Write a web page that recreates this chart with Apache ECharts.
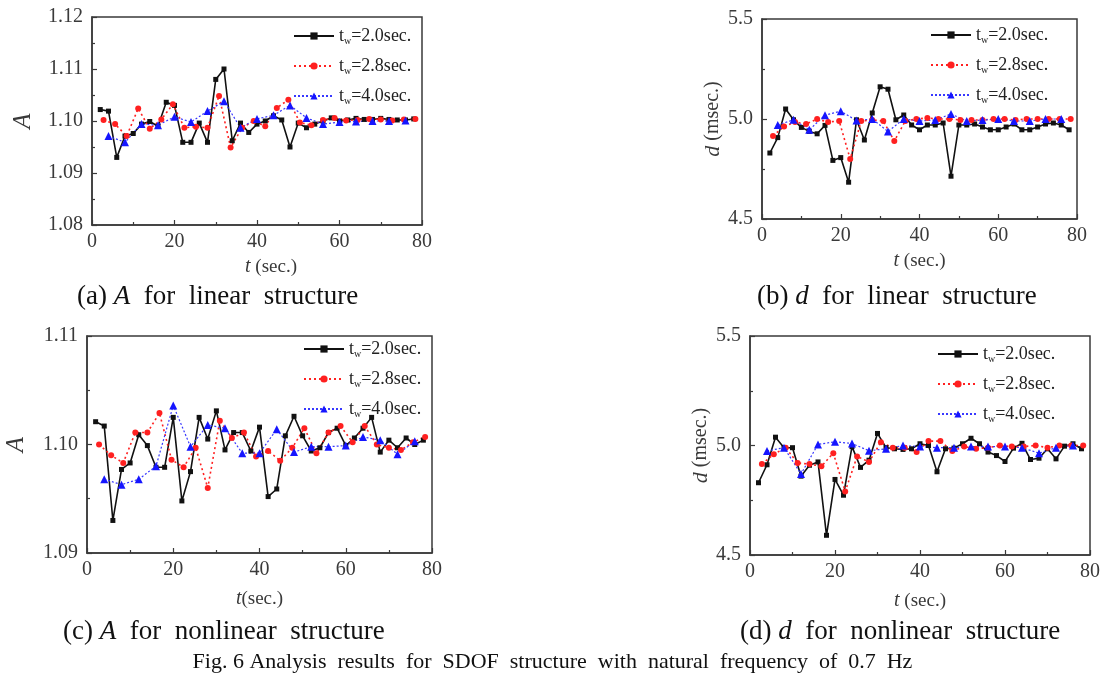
<!DOCTYPE html>
<html>
<head>
<meta charset="utf-8">
<title>Fig. 6 SDOF analysis results</title>
<script src="https://cdn.jsdelivr.net/npm/echarts@6/dist/echarts.min.js"></script>
<style>
  html, body { margin: 0; padding: 0; background: #fff; }
  #chart { width: 1105px; height: 689px; }
</style>
</head>
<body>
<div id="chart"></div>
<script>
// sample times for the three window lengths
const tW20 = [2, 4, 6, 8, 10, 12, 14, 16, 18, 20, 22, 24, 26, 28, 30, 32, 34, 36, 38, 40,
  42, 44, 46, 48, 50, 52, 54, 56, 58, 60, 62, 64, 66, 68, 70, 72, 74, 76, 78]
const tW28 = [2.8, 5.6, 8.4, 11.2, 14, 16.8, 19.6, 22.4, 25.2, 28, 30.8, 33.6, 36.4, 39.2,
  42, 44.8, 47.6, 50.4, 53.2, 56, 58.8, 61.6, 64.4, 67.2, 70, 72.8, 75.6, 78.4]
const tW40 = [4, 8, 12, 16, 20, 24, 28, 32, 36, 40, 44, 48, 52, 56, 60, 64, 68, 72, 76]

const seriesNames = ['t_w=2.0sec.', 't_w=2.8sec.', 't_w=4.0sec.']

// (a) A, linear
const aW20 = [1.1022, 1.1019, 1.0930, 1.0971, 1.0976, 1.0994, 1.0999, 1.0990, 1.1036, 1.1030,
  1.0959, 1.0959, 1.0996, 1.0959, 1.1080, 1.1100, 1.0962, 1.0996, 1.0978, 1.0994,
  1.1000, 1.1010, 1.1002, 1.0950, 1.0996, 1.0987, 1.0994, 1.1000, 1.1006, 1.1000,
  1.1002, 1.1005, 1.1003, 1.1003, 1.1005, 1.1003, 1.1002, 1.1002, 1.1004]
const aW28 = [1.1002, 1.0994, 1.0971, 1.1024, 1.0985, 1.1003, 1.1032, 1.0987, 1.0989, 1.0987,
  1.1048, 1.0949, 1.0987, 1.1000, 1.0990, 1.1025, 1.1041, 1.0997, 1.0992, 1.1002,
  1.1006, 1.1001, 1.1002, 1.1004, 1.1003, 1.1001, 1.1003, 1.1004]
const aW40 = [1.0971, 1.0959, 1.0994, 1.0992, 1.1008, 1.0998, 1.1019, 1.1038, 1.0987, 1.1004,
  1.1011, 1.1030, 1.1006, 1.0994, 1.0998, 1.0999, 1.1000, 1.1000, 1.1001]

// (b) d, linear
const bW20 = [4.83, 4.907, 5.05, 4.996, 4.958, 4.938, 4.926, 4.968, 4.793, 4.807,
  4.684, 4.996, 4.895, 5.03, 5.161, 5.149, 4.996, 5.02, 4.97, 4.946,
  4.97, 4.97, 4.98, 4.714, 4.97, 4.97, 4.975, 4.96, 4.946, 4.946,
  4.96, 4.975, 4.946, 4.946, 4.96, 4.975, 4.98, 4.97, 4.946]
const bW28 = [4.915, 4.963, 4.985, 4.975, 5.0, 4.985, 4.99, 4.80, 4.99, 4.995,
  4.99, 4.89, 4.99, 5.0, 5.005, 5.0, 5.0, 4.995, 4.995, 4.995,
  5.0, 5.0, 4.995, 5.0, 5.0, 5.0, 5.0, 5.0]
const bW40 = [4.97, 4.996, 4.946, 5.019, 5.039, 4.992, 5.0, 4.938, 5.0, 4.99,
  4.995, 5.025, 4.99, 4.995, 5.0, 4.99, 4.99, 5.0, 5.0]

// (c) A, nonlinear
const cW20 = [1.1021, 1.1017, 1.0930, 1.0977, 1.0983, 1.1009, 1.0999, 1.0979, 1.0979, 1.1025,
  1.0948, 1.0975, 1.1025, 1.1005, 1.1031, 1.0995, 1.1011, 1.1011, 1.0994, 1.1016,
  1.0952, 1.0959, 1.1008, 1.1026, 1.1008, 1.0994, 1.0997, 1.1011, 1.1015, 1.0999,
  1.1006, 1.1015, 1.1025, 1.0993, 1.1004, 1.0997, 1.1006, 1.1000, 1.1004]
const cW28 = [1.1000, 1.0990, 1.0983, 1.1011, 1.1011, 1.1029, 1.0986, 1.0979, 1.0997, 1.0960,
  1.1022, 1.1006, 1.1011, 1.0989, 1.0994, 1.0985, 1.0997, 1.1015, 1.0992, 1.1011,
  1.1017, 1.1002, 1.1017, 1.1000, 1.0997, 1.0995, 1.1002, 1.1007]
const cW40 = [1.0968, 1.0963, 1.0968, 1.0980, 1.1036, 1.0998, 1.1018, 1.1015, 1.0992, 1.0992,
  1.1014, 1.0993, 1.0998, 1.0998, 1.0999, 1.1007, 1.1004, 1.0991, 1.1003]

// (d) d, nonlinear
const dW20 = [4.83, 4.912, 5.038, 4.99, 4.99, 4.86, 4.91, 4.925, 4.59, 4.845,
  4.773, 4.995, 4.90, 4.933, 5.055, 4.99, 4.985, 4.982, 4.985, 5.008,
  5.0, 4.88, 4.985, 4.988, 5.008, 5.033, 5.008, 4.97, 4.954, 4.927,
  4.988, 5.01, 4.936, 4.942, 4.985, 4.939, 4.997, 5.008, 4.985]
const dW28 = [4.915, 4.96, 4.99, 4.92, 4.915, 4.905, 4.965, 4.79, 4.95, 4.925,
  5.015, 4.99, 4.99, 4.97, 5.02, 5.02, 4.975, 4.995, 4.985, 4.99,
  5.0, 4.995, 4.995, 5.0, 4.99, 5.0, 5.0, 5.0]
const dW40 = [4.975, 4.99, 4.87, 5.005, 5.017, 5.009, 4.976, 4.985, 5.0, 4.995,
  4.99, 4.99, 4.995, 4.995, 4.995, 4.99, 4.965, 4.99, 5.0]

const panelData = [
  [aW20, aW28, aW40],
  [bW20, bW28, bW40],
  [cW20, cW28, cW40],
  [dW20, dW28, dW40]
]

// y ranges per panel
const yMin = [1.08, 4.5, 1.09, 4.5]
const yMax = [1.12, 5.5, 1.11, 5.5]
const yStep = [0.01, 0.5, 0.01, 0.5]
const yDigits = [2, 1, 2, 1]
const yNames = ['{i|A}', '{i|d} (msec.)', '{i|A}', '{i|d} (msec.)']
const xNames = ['{i|t} (sec.)', '{i|t} (sec.)', '{i|t}(sec.)', '{i|t} (sec.)']
const captions = [
  '(a) {i|A}  for  linear  structure',
  '(b) {i|d}  for  linear  structure',
  '(c) {i|A}  for  nonlinear  structure',
  '(d) {i|d}  for  nonlinear  structure'
]
const figCaption = 'Fig. 6 Analysis  results  for  SDOF  structure  with  natural  frequency  of  0.7  Hz'

const serif = "'Liberation Serif', 'Times New Roman', serif"
const axisColor = '#3a3a3a'

const grids = [
  { left: 92, top: 17, width: 330, height: 208 },
  { left: 762, top: 19, width: 315, height: 200 },
  { left: 87, top: 336, width: 345, height: 217 },
  { left: 750, top: 336, width: 340, height: 219 }
]
const legendPos = [
  { left: 293, top: 27 },
  { left: 930, top: 26 },
  { left: 303, top: 340 },
  { left: 937, top: 345 }
]
const captionPos = [
  { left: 77, top: 283 },
  { left: 757, top: 283 },
  { left: 63, top: 618 },
  { left: 740, top: 618 }
]
const yNameGap = [56, 36, 58, 38]
const xNamePad = [[0, 0, 0, 28], 0, 0, 0]

const lineStyles = [
  { color: '#111', symbol: 'rect', symbolSize: 5, lineStyle: { color: '#111', width: 1.6 } },
  { color: '#ff2020', symbol: 'circle', symbolSize: 6, lineStyle: { color: '#ff2020', width: 1.6, type: [2, 3] } },
  { color: '#1515ff', symbol: 'triangle', symbolSize: 8, lineStyle: { color: '#3838ff', width: 1.2, type: [2, 2] } }
]
const times = [tW20, tW28, tW40]

const italic = { fontStyle: 'italic', fontFamily: serif }

const chart = echarts.init(document.getElementById('chart'))

const option = {
  animation: false,
  backgroundColor: '#fff',
  title: captions.map((text, i) => ({
    text,
    left: captionPos[i].left,
    top: captionPos[i].top,
    padding: 0,
    textStyle: {
      fontFamily: serif, fontSize: 27, fontWeight: 'normal', color: '#111',
      rich: { i: { ...italic, fontSize: 27, color: '#111' } }
    }
  })).concat([{
    text: figCaption,
    left: 'center',
    top: 651,
    padding: 0,
    textStyle: { fontFamily: serif, fontSize: 22, fontWeight: 'normal', color: '#111' }
  }]),
  legend: legendPos.map(p => ({
    orient: 'vertical',
    left: p.left,
    top: p.top,
    padding: 0,
    itemWidth: 40,
    itemHeight: 9,
    itemGap: 11,
    selectedMode: false,
    data: seriesNames,
    formatter: name => name.replace('_w', '{w|w}'),
    textStyle: {
      fontFamily: serif, fontSize: 18, color: '#222',
      rich: { w: { fontFamily: serif, fontSize: 10, color: '#222', padding: [10, 0, 0, 0] } }
    }
  })),
  grid: grids.map(g => ({
    ...g,
    show: true,
    borderColor: axisColor,
    borderWidth: 1.5,
    containLabel: false
  })),
  xAxis: grids.map((g, i) => ({
    type: 'value',
    gridIndex: i,
    min: 0,
    max: 80,
    interval: 20,
    name: xNames[i],
    nameLocation: 'middle',
    nameGap: i < 2 ? 32 : 36,
    nameTextStyle: {
      fontFamily: serif, fontSize: 19, color: axisColor, padding: xNamePad[i],
      rich: { i: { ...italic, fontSize: 20, color: axisColor } }
    },
    axisLine: { show: true, onZero: false, lineStyle: { color: axisColor, width: 1.5 } },
    axisTick: { inside: true, length: 5, lineStyle: { color: axisColor, width: 1.2 } },
    minorTick: { show: true, splitNumber: 2, length: 3, lineStyle: { color: axisColor, width: 1.2 } },
    splitLine: { show: false },
    axisLabel: { fontFamily: serif, fontSize: 20, color: axisColor, margin: 7 }
  })),
  yAxis: grids.map((g, i) => ({
    type: 'value',
    gridIndex: i,
    min: yMin[i],
    max: yMax[i],
    interval: yStep[i],
    name: yNames[i],
    nameLocation: 'middle',
    nameRotate: 90,
    nameGap: yNameGap[i],
    nameTextStyle: {
      fontFamily: serif, fontSize: 20, color: axisColor,
      rich: { i: { ...italic, fontSize: i % 2 ? 22 : 25, color: axisColor } }
    },
    axisLine: { show: true, onZero: false, lineStyle: { color: axisColor, width: 1.5 } },
    axisTick: { inside: true, length: 5, lineStyle: { color: axisColor, width: 1.2 } },
    minorTick: { show: true, splitNumber: 2, length: 3, lineStyle: { color: axisColor, width: 1.2 } },
    splitLine: { show: false },
    axisLabel: {
      fontFamily: serif, fontSize: 20, color: axisColor, margin: 9,
      formatter: v => v.toFixed(yDigits[i])
    }
  })),
  series: []
}

panelData.forEach((sets, p) => {
  sets.forEach((vals, k) => {
    const st = lineStyles[k]
    option.series.push({
      type: 'line',
      name: seriesNames[k],
      xAxisIndex: p,
      yAxisIndex: p,
      data: vals.map((v, j) => [times[k][j], v]),
      symbol: st.symbol,
      symbolSize: st.symbolSize,
      itemStyle: { color: st.color },
      lineStyle: st.lineStyle,
      emphasis: { disabled: true }
    })
  })
})

chart.setOption(option)
window.addEventListener('resize', () => chart.resize())
</script>
</body>
</html>
